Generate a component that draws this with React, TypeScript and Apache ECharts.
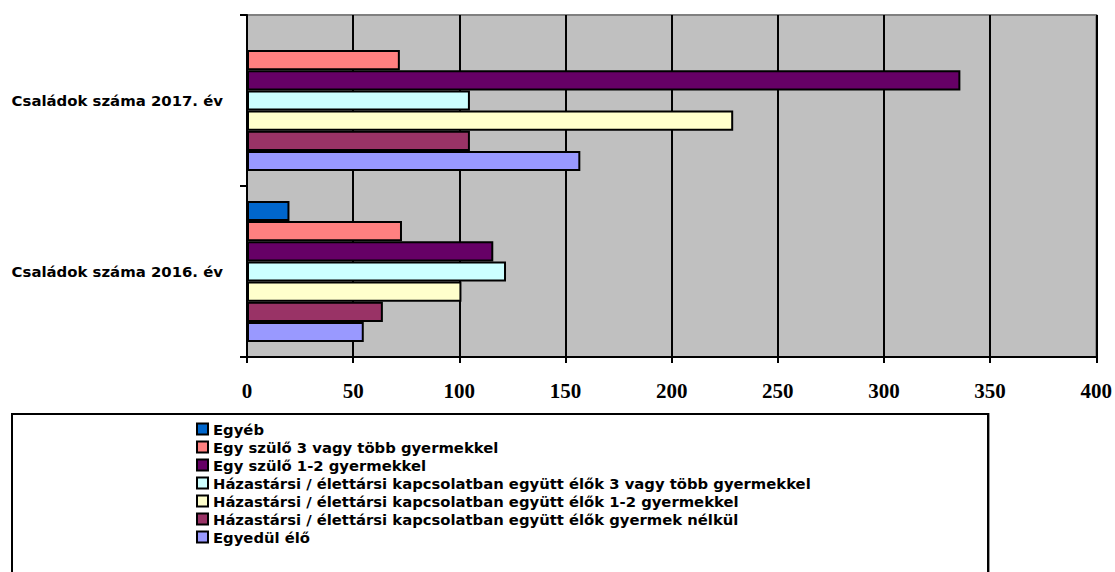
import React, { useEffect, useRef } from "react";
import * as echarts from "echarts";

const categories = ["Családok száma 2016. év", "Családok száma 2017. év"];
const seriesNames = [
  "Egyéb",
  "Egy szülő 3 vagy több gyermekkel",
  "Egy szülő 1-2 gyermekkel",
  "Házastársi / élettársi kapcsolatban együtt élők 3 vagy több gyermekkel",
  "Házastársi / élettársi kapcsolatban együtt élők 1-2 gyermekkel",
  "Házastársi / élettársi kapcsolatban együtt élők gyermek nélkül",
  "Egyedül élő",
];
const colors = ["#0066CC", "#FF8080", "#660066", "#CCFFFF", "#FFFFCC", "#993366", "#9999FF"];
// values per series: [2016, 2017]
const egyeb = [20, null];
const egySzulo3 = [73, 72];
const egySzulo12 = [116, 336];
const hazas3 = [122, 105];
const hazas12 = [101, 229];
const hazasNelkul = [64, 105];
const egyedul = [55, 157];
const seriesValues = [egyeb, egySzulo3, egySzulo12, hazas3, hazas12, hazasNelkul, egyedul];
const xTicks = { min: 0, max: 400, interval: 50 };

export default function App() {
  const ref = useRef<HTMLDivElement>(null);
  useEffect(() => {
    if (!ref.current) return;
    const chart = echarts.init(ref.current, undefined, { renderer: "svg" });
    const font = "DejaVu Sans";
    chart.setOption({
      animation: false,
      backgroundColor: "#ffffff",
      graphic: [
        {
          type: "rect",
          z: -10,
          shape: { x: 12, y: 414, width: 976, height: 170 },
          style: { fill: "#ffffff", stroke: "#000000", lineWidth: 2, shadowColor: "#999", shadowOffsetX: 1 },
        },
      ],
      grid: {
        left: 247,
        right: 18,
        top: 15,
        bottom: 215,
        show: true,
        backgroundColor: "#c0c0c0",
        borderColor: "#808080",
        borderWidth: 2,
      },
      legend: {
        orient: "vertical",
        left: 191,
        top: 415,
        itemWidth: 11,
        itemHeight: 11,
        itemGap: 0,
        icon: "rect",
        data: seriesNames,
        textStyle: {
          fontFamily: font,
          fontWeight: "bold",
          fontSize: 14.8,
          lineHeight: 18,
          color: "#000",
        },
      },
      xAxis: {
        type: "value",
        min: xTicks.min,
        max: xTicks.max,
        interval: xTicks.interval,
        axisLine: { show: true, lineStyle: { color: "#000", width: 2 } },
        axisTick: { show: true, length: 6, lineStyle: { color: "#000", width: 2 } },
        splitLine: { show: true, lineStyle: { color: "#000", width: 2 } },
        axisLabel: {
          margin: 23,
          fontFamily: "Liberation Serif",
          fontWeight: "bold",
          fontSize: 21,
          color: "#000",
        },
      },
      yAxis: {
        type: "category",
        data: categories,
        axisLine: { show: true, lineStyle: { color: "#000", width: 2 } },
        axisTick: { show: true, length: 7, lineStyle: { color: "#000", width: 2 } },
        axisLabel: {
          margin: 24,
          fontFamily: font,
          fontWeight: "bold",
          fontSize: 14.9,
          color: "#000",
        },
      },
      series: seriesNames.map((name, i) => ({
        type: "bar",
        name,
        data: seriesValues[i],
        barGap: "0%",
        barCategoryGap: "17.5%",
        itemStyle: { color: colors[i], borderColor: "#000", borderWidth: 2 },
      })),
    });
    return () => chart.dispose();
  }, []);
  return <div ref={ref} style={{ position: "fixed", left: 0, top: 0, width: 1115, height: 572 }} />;
}
